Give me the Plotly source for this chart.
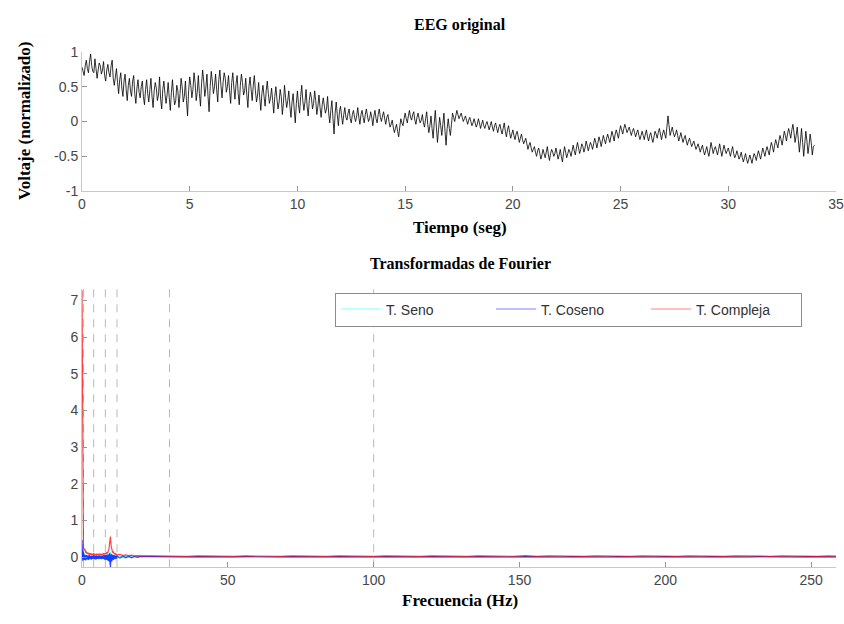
import numpy as np
import plotly.graph_objects as go

# ---------------- EEG (top) : values ----------------
# samples at t = 0.0, 0.1, 0.2 ... (s)
eeg_step = 0.1
eeg_values = [
    0.78, 0.66, 0.88, 0.70, 0.97, 0.72, 0.90, 0.62, 0.84, 0.68,   # 0 s
    0.86, 0.58, 0.82, 0.64, 0.88, 0.52, 0.76, 0.40, 0.70, 0.36,   # 1 s
    0.68, 0.30, 0.62, 0.36, 0.66, 0.26, 0.60, 0.34, 0.58, 0.24,   # 2 s
    0.60, 0.28, 0.62, 0.20, 0.56, 0.30, 0.64, 0.18, 0.58, 0.26,   # 3 s
    0.56, 0.16, 0.60, 0.24, 0.52, 0.20, 0.62, 0.28, 0.58, 0.08,   # 4 s
    0.64, 0.34, 0.70, 0.30, 0.66, 0.22, 0.74, 0.36, 0.68, 0.14,   # 5 s
    0.72, 0.40, 0.68, 0.28, 0.74, 0.34, 0.70, 0.42, 0.66, 0.26,   # 6 s
    0.70, 0.32, 0.66, 0.24, 0.68, 0.38, 0.62, 0.20, 0.64, 0.30,   # 7 s
    0.66, 0.28, 0.56, 0.16, 0.52, 0.22, 0.58, 0.26, 0.48, 0.12,   # 8 s
    0.50, 0.18, 0.46, 0.10, 0.52, 0.20, 0.44, 0.06, 0.40, -0.02,  # 9 s
    0.44, 0.12, 0.52, 0.16, 0.46, 0.08, 0.42, 0.18, 0.44, 0.10,   # 10 s
    0.38, 0.06, 0.34, 0.12, 0.36, -0.02, 0.30, -0.18, 0.28, -0.06,  # 11 s
    0.22, -0.04, 0.20, 0.02, 0.18, -0.02, 0.16, 0.00, 0.20, -0.04,  # 12 s
    0.16, -0.02, 0.18, 0.00, 0.14, -0.06, 0.16, -0.02, 0.18, 0.00,  # 13 s
    0.14, -0.04, 0.10, -0.08, 0.02, -0.16, -0.04, -0.22, 0.04, -0.06,  # 14 s
    0.12, -0.02, 0.16, 0.02, 0.14, -0.04, 0.12, -0.02, 0.10, -0.08,  # 15 s
    0.14, -0.16, 0.08, -0.24, 0.16, -0.30, 0.06, -0.20, 0.12, -0.34,  # 16 s
    0.04, -0.20, 0.12, 0.00, 0.16, 0.04, 0.12, 0.00, 0.08, -0.04,   # 17 s
    0.06, -0.06, 0.04, -0.08, 0.04, -0.10, 0.02, -0.10, 0.00, -0.12,  # 18 s
    0.00, -0.14, -0.02, -0.16, -0.04, -0.18, -0.02, -0.22, -0.06, -0.24,  # 19 s
    -0.12, -0.26, -0.14, -0.30, -0.18, -0.32, -0.24, -0.40, -0.30, -0.44,  # 20 s
    -0.36, -0.50, -0.38, -0.54, -0.40, -0.52, -0.36, -0.56, -0.40, -0.50,  # 21 s
    -0.38, -0.54, -0.40, -0.58, -0.36, -0.52, -0.40, -0.50, -0.34, -0.48,  # 22 s
    -0.30, -0.46, -0.32, -0.44, -0.28, -0.42, -0.30, -0.40, -0.24, -0.38,  # 23 s
    -0.22, -0.36, -0.20, -0.32, -0.18, -0.30, -0.14, -0.28, -0.12, -0.24,  # 24 s
    -0.06, -0.18, -0.04, -0.16, -0.08, -0.20, -0.10, -0.22, -0.12, -0.26,  # 25 s
    -0.14, -0.26, -0.12, -0.28, -0.16, -0.30, -0.14, -0.24, -0.10, -0.26,  # 26 s
    -0.12, -0.24, 0.08, -0.20, -0.08, -0.22, -0.12, -0.28, -0.16, -0.30,   # 27 s
    -0.20, -0.34, -0.24, -0.36, -0.28, -0.40, -0.32, -0.44, -0.34, -0.48,  # 28 s
    -0.36, -0.50, -0.30, -0.46, -0.36, -0.48, -0.32, -0.50, -0.34, -0.46,  # 29 s
    -0.38, -0.50, -0.36, -0.52, -0.42, -0.54, -0.44, -0.58, -0.46, -0.60,  # 30 s
    -0.48, -0.60, -0.46, -0.56, -0.42, -0.54, -0.38, -0.50, -0.36, -0.48,  # 31 s
    -0.30, -0.44, -0.26, -0.38, -0.20, -0.34, -0.14, -0.28, -0.10, -0.24,  # 32 s
    -0.04, -0.30, -0.08, -0.44, -0.10, -0.50, -0.14, -0.46, -0.18, -0.48,  # 33 s
    -0.34,                                                                  # 34 s
]
# samples at t = 0.05, 0.15, 0.25 ... (s)
eeg_mid_values = [
    0.72, 0.80, 0.76, 0.86, 0.80, 0.70, 0.76, 0.74, 0.80, 0.74,   # 0 s
    0.66, 0.74, 0.70, 0.80, 0.62, 0.64, 0.56, 0.60, 0.48, 0.58,   # 1 s
    0.46, 0.52, 0.44, 0.58, 0.40, 0.48, 0.42, 0.50, 0.36, 0.46,   # 2 s
    0.40, 0.46, 0.36, 0.44, 0.48, 0.38, 0.32, 0.46, 0.40, 0.38,   # 3 s
    0.34, 0.42, 0.38, 0.30, 0.44, 0.40, 0.50, 0.36, 0.30, 0.44,   # 4 s
    0.52, 0.46, 0.56, 0.42, 0.40, 0.54, 0.58, 0.48, 0.36, 0.50,   # 5 s
    0.58, 0.50, 0.46, 0.60, 0.52, 0.56, 0.62, 0.50, 0.44, 0.56,   # 6 s
    0.48, 0.54, 0.40, 0.52, 0.56, 0.44, 0.38, 0.50, 0.46, 0.52,   # 7 s
    0.44, 0.38, 0.34, 0.40, 0.36, 0.44, 0.40, 0.34, 0.30, 0.36,   # 8 s
    0.32, 0.28, 0.36, 0.26, 0.34, 0.30, 0.22, 0.28, 0.18, 0.26,   # 9 s
    0.24, 0.36, 0.30, 0.28, 0.22, 0.30, 0.34, 0.26, 0.30, 0.22,   # 10 s
    0.20, 0.24, 0.22, 0.18, 0.12, 0.16, 0.04, 0.12, 0.10, 0.14,   # 11 s
    0.08, 0.10, 0.06, 0.12, 0.04, 0.10, 0.06, 0.08, 0.06, 0.10,   # 12 s
    0.06, 0.10, 0.08, 0.04, 0.06, 0.08, 0.04, 0.10, 0.06, 0.08,   # 13 s
    0.04, 0.06, 0.00, -0.04, -0.08, -0.10, -0.14, -0.08, -0.02, 0.04,  # 14 s
    0.04, 0.08, 0.06, 0.10, 0.02, 0.06, 0.04, 0.02, -0.02, 0.04,  # 15 s
    -0.04, -0.06, -0.10, -0.02, -0.08, -0.12, -0.06, -0.04, -0.14, -0.10,  # 16 s
    -0.10, -0.04, 0.06, 0.08, 0.10, 0.08, 0.06, 0.04, 0.02, 0.02,  # 17 s
    0.00, -0.02, -0.02, -0.04, -0.02, -0.04, -0.06, -0.04, -0.06, -0.06,  # 18 s
    -0.08, -0.06, -0.10, -0.08, -0.12, -0.10, -0.14, -0.12, -0.16, -0.18,  # 19 s
    -0.20, -0.18, -0.22, -0.24, -0.26, -0.28, -0.32, -0.34, -0.38, -0.40,  # 20 s
    -0.44, -0.42, -0.46, -0.48, -0.46, -0.44, -0.48, -0.46, -0.44, -0.46,  # 21 s
    -0.46, -0.48, -0.50, -0.46, -0.44, -0.46, -0.44, -0.42, -0.42, -0.38,  # 22 s
    -0.38, -0.40, -0.36, -0.38, -0.34, -0.36, -0.34, -0.32, -0.30, -0.30,  # 23 s
    -0.28, -0.28, -0.26, -0.24, -0.24, -0.22, -0.20, -0.18, -0.18, -0.14,  # 24 s
    -0.12, -0.10, -0.10, -0.12, -0.14, -0.14, -0.16, -0.16, -0.20, -0.20,  # 25 s
    -0.20, -0.18, -0.22, -0.20, -0.24, -0.22, -0.18, -0.16, -0.18, -0.18,  # 26 s
    -0.18, -0.08, -0.06, -0.14, -0.16, -0.18, -0.20, -0.22, -0.24, -0.24,  # 27 s
    -0.28, -0.28, -0.30, -0.32, -0.34, -0.36, -0.38, -0.38, -0.42, -0.42,  # 28 s
    -0.44, -0.40, -0.38, -0.40, -0.42, -0.40, -0.42, -0.42, -0.40, -0.42,  # 29 s
    -0.44, -0.42, -0.46, -0.48, -0.48, -0.50, -0.52, -0.52, -0.54, -0.54,  # 30 s
    -0.54, -0.52, -0.50, -0.48, -0.48, -0.46, -0.44, -0.42, -0.42, -0.38,  # 31 s
    -0.36, -0.34, -0.32, -0.28, -0.26, -0.24, -0.20, -0.18, -0.16, -0.12,  # 32 s
    -0.16, -0.20, -0.26, -0.28, -0.30, -0.32, -0.28, -0.34, -0.30, -0.36,  # 33 s
]

top_xticks = [0, 5, 10, 15, 20, 25, 30, 35]
top_yticks = [-1, -0.5, 0, 0.5, 1]
top_yticktext = ["-1", "-0.5", "0", "0.5", "1"]

# ---------------- Fourier transforms (bottom) ----------------
freq_low = list(np.arange(0, 12.001, 0.25))        # 0 .. 12 Hz
freq_mid = [13, 14, 15, 16, 17, 18, 19, 20]
freq_high = list(range(24, 261, 4))                 # 24 .. 260 Hz
freq = freq_low + freq_mid + freq_high

compleja_low = [7.27, 0.55, 0.28, 0.18, 0.22, 0.12, 0.15, 0.08, 0.12, 0.07,
                0.11, 0.06, 0.10, 0.05, 0.09, 0.06, 0.10, 0.05, 0.08, 0.04,
                0.09, 0.05, 0.08, 0.04, 0.09, 0.05, 0.08, 0.05, 0.09, 0.06,
                0.10, 0.07, 0.11, 0.08, 0.13, 0.10, 0.16, 0.22, 0.40, 0.56,
                0.30, 0.18, 0.12, 0.14, 0.08, 0.11, 0.06, 0.09, 0.05]
compleja_mid = [0.07, 0.04, 0.06, 0.04, 0.05, 0.03, 0.04, 0.03]
compleja_high = [0.03, 0.02, 0.03, 0.02, 0.03, 0.02, 0.03, 0.02, 0.03, 0.02,
                 0.03, 0.02, 0.03, 0.02, 0.03, 0.02, 0.03, 0.02, 0.03, 0.02,
                 0.03, 0.02, 0.03, 0.02, 0.03, 0.02, 0.03, 0.02, 0.03, 0.02,
                 0.03, 0.02, 0.04, 0.02, 0.03, 0.02, 0.03, 0.02, 0.03, 0.02,
                 0.03, 0.02, 0.03, 0.02, 0.03, 0.02, 0.03, 0.02, 0.03, 0.02,
                 0.03, 0.02, 0.03, 0.02, 0.03, 0.02, 0.03, 0.02, 0.03, 0.02]
t_compleja = compleja_low + compleja_mid + compleja_high

coseno_low = [0.47, -0.10, 0.15, -0.08, 0.06, -0.09, 0.05, -0.07, 0.04, -0.08,
              0.05, -0.06, 0.03, -0.07, 0.04, -0.05, 0.05, -0.06, 0.03, -0.07,
              0.04, -0.05, 0.03, -0.06, 0.04, -0.05, 0.03, -0.06, 0.04, -0.05,
              0.05, -0.07, 0.05, -0.08, 0.06, -0.09, 0.07, -0.12, 0.10, -0.28,
              0.08, -0.12, 0.06, -0.08, 0.05, -0.06, 0.04, -0.05, 0.03]
coseno_mid = [-0.03, 0.03, -0.02, 0.02, -0.02, 0.02, -0.01, 0.02]
coseno_high = [0.01, 0.00, 0.01, 0.00, 0.01, 0.00, 0.01, 0.00, 0.01, 0.00,
               0.01, 0.00, 0.01, 0.00, 0.01, 0.00, 0.01, 0.00, 0.01, 0.00,
               0.01, 0.00, 0.01, 0.00, 0.01, 0.00, 0.01, 0.00, 0.01, 0.00,
               0.01, 0.00, 0.01, 0.00, 0.01, 0.00, 0.01, 0.00, 0.01, 0.00,
               0.01, 0.00, 0.01, 0.00, 0.01, 0.00, 0.01, 0.00, 0.01, 0.00,
               0.01, 0.00, 0.01, 0.00, 0.01, 0.00, 0.01, 0.00, 0.01, 0.00]
t_coseno = coseno_low + coseno_mid + coseno_high

seno_low = [0.00, 0.20, -0.12, 0.10, -0.08, 0.06, -0.05, 0.05, -0.04, 0.04,
            -0.05, 0.03, -0.04, 0.04, -0.03, 0.03, -0.04, 0.04, -0.03, 0.03,
            -0.04, 0.03, -0.03, 0.04, -0.04, 0.03, -0.03, 0.04, -0.04, 0.04,
            -0.05, 0.05, -0.05, 0.06, -0.07, 0.08, -0.10, 0.12, -0.20, 0.15,
            -0.10, 0.08, -0.06, 0.05, -0.04, 0.04, -0.03, 0.03, -0.03]
seno_mid = [0.02, -0.02, 0.02, -0.01, 0.01, -0.01, 0.01, -0.01]
seno_high = [0.01, 0.00, 0.01, 0.00, 0.01, 0.00, 0.01, 0.00, 0.01, 0.00,
             0.01, 0.00, 0.01, 0.00, 0.01, 0.00, 0.01, 0.00, 0.01, 0.00,
             0.01, 0.00, 0.01, 0.00, 0.01, 0.00, 0.01, 0.00, 0.01, 0.00,
             0.01, 0.00, 0.01, 0.00, 0.01, 0.00, 0.01, 0.00, 0.01, 0.00,
             0.01, 0.00, 0.01, 0.00, 0.01, 0.00, 0.01, 0.00, 0.01, 0.00,
             0.01, 0.00, 0.01, 0.00, 0.01, 0.00, 0.01, 0.00, 0.01, 0.00]
t_seno = seno_low + seno_mid + seno_high

series_names = ["T. Seno", "T. Coseno", "T. Compleja"]
series_rgb = ["0,255,255", "0,0,255", "255,0,0"]

band_freqs = [0.5, 4, 8, 12, 30, 100]   # dashed band limits (Hz)

bot_xticks = [0, 50, 100, 150, 200, 250]
bot_yticks = [0, 1, 2, 3, 4, 5, 6, 7]

# ---------------- merge the two EEG sample sets in time order ----------------
eeg_t, eeg_y = [], []
for i, v in enumerate(eeg_values):
    eeg_t.append(i * eeg_step)
    eeg_y.append(v)
    if i < len(eeg_mid_values):
        eeg_t.append(i * eeg_step + eeg_step / 2)
        eeg_y.append(eeg_mid_values[i])

# ---------------- figure ----------------
W, H = 844, 624
def py(p):  # pixel row -> paper y
    return 1 - p / H

SERIF = "Liberation Serif, Times New Roman, serif"
SANS = "Liberation Sans, Arial, sans-serif"

fig = go.Figure()

fig.add_trace(go.Scatter(x=eeg_t, y=eeg_y, mode="lines",
                         line=dict(color="rgba(0,0,0,0.9)", width=0.9),
                         xaxis="x", yaxis="y", showlegend=False))

for name, rgb, vals in zip(series_names, series_rgb, [t_seno, t_coseno, t_compleja]):
    fig.add_trace(go.Scatter(x=freq, y=vals, mode="lines",
                             line=dict(color=f"rgba({rgb},0.75)", width=1.2),
                             xaxis="x2", yaxis="y2", showlegend=False))
for name, rgb in zip(series_names, series_rgb):
    fig.add_trace(go.Scatter(x=[None], y=[None], mode="lines", name=name,
                             line=dict(color=f"rgba({rgb},0.25)", width=2),
                             xaxis="x2", yaxis="y2", showlegend=True))

for f in band_freqs:
    fig.add_shape(type="line", xref="x2", yref="y2 domain", x0=f, x1=f, y0=0, y1=1,
                  line=dict(color="rgb(185,185,185)", width=1, dash="8px,7px"),
                  layer="below")

axis_common = dict(showline=True, linecolor="rgb(200,200,200)", linewidth=1,
                   ticks="inside", ticklen=5, tickcolor="rgb(150,150,150)",
                   showgrid=False, zeroline=False,
                   tickfont=dict(family=SANS, size=14, color="rgb(70,70,70)"))

fig.update_layout(
    width=W, height=H,
    margin=dict(l=82, r=8, t=0, b=0),
    paper_bgcolor="white", plot_bgcolor="white",
    xaxis=dict(domain=[0, 1], anchor="y", range=[0, 35], tickvals=top_xticks, **axis_common),
    yaxis=dict(domain=[py(188), py(45)], anchor="x", range=[-1, 1],
               tickvals=top_yticks, ticktext=top_yticktext, **axis_common),
    xaxis2=dict(domain=[0, 1], anchor="y2", range=[0, 258.5], tickvals=bot_xticks, **axis_common),
    yaxis2=dict(domain=[py(574), py(288)], anchor="x2", range=[-0.28, 7.32],
                tickvals=bot_yticks, **axis_common),
    legend=dict(orientation="h", x=0.955, xanchor="right", y=py(292), yanchor="top",
                bgcolor="white", bordercolor="rgb(140,140,140)", borderwidth=1,
                font=dict(family=SANS, size=14, color="rgb(50,50,50)"),
                itemwidth=40, entrywidth=100, entrywidthmode="pixels",
                traceorder="normal"),
)

def ann(text, x, y, size, angle=0):
    fig.add_annotation(text=f"<b>{text}</b>", xref="paper", yref="paper", x=x, y=y,
                       xanchor="center", yanchor="middle", showarrow=False, textangle=angle,
                       font=dict(family=SERIF, size=size, color="black"))

cx = (460 - 82) / (W - 82 - 8)
ann("EEG original", cx, py(17), 16)
ann("Tiempo (seg)", cx, py(225), 17)
ann("Voltaje (normalizado)", (24 - 82) / (W - 90), py(116), 17, angle=-90)
ann("Transformadas de Fourier", cx, py(262), 16)
ann("Frecuencia (Hz)", cx, py(608), 17)

fig.write_html("out.html")
